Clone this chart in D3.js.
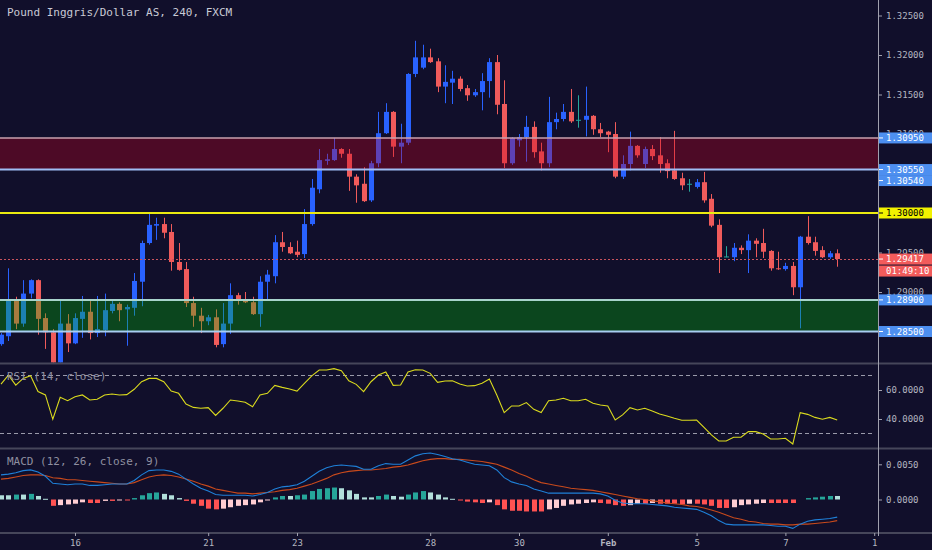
<!DOCTYPE html>
<html><head><meta charset="utf-8">
<script src="https://cdn.jsdelivr.net/npm/d3@7/dist/d3.min.js"></script>
<style>html,body{margin:0;padding:0;background:#110f2b;overflow:hidden}</style>
</head><body><svg id="c" width="932" height="550"></svg>
<script>
// ---------- DATA ----------
const opens=[1.2834,1.2844,1.2889,1.2860,1.2898,1.2915,1.2867,1.2849,1.2804,1.2860,
1.2835,1.2866,1.2875,1.2848,1.2852,1.2876,1.2885,1.2878,1.2880,1.2913,
1.2962,1.2984,1.2986,1.2976,1.2938,1.2929,1.2886,1.2870,1.2863,1.2868,
1.2834,1.2860,1.2896,1.2891,1.2887,1.2872,1.2913,1.2920,1.2963,1.2957,
1.2951,1.2948,1.2986,1.3030,1.3066,1.3067,1.3081,1.3075,1.3046,1.3037,
1.3016,1.3063,1.3101,1.3128,1.3084,1.3089,1.3176,1.3184,1.3197,1.3192,
1.3160,1.3165,1.3170,1.3158,1.3149,1.3153,1.3167,1.3191,1.3138,1.3063,
1.3092,1.3096,1.3109,1.3078,1.3063,1.3115,1.3119,1.3128,1.3118,1.3118,
1.3123,1.3106,1.3103,1.3100,1.3046,1.3062,1.3085,1.3062,1.3081,1.3073,
1.3063,1.3054,1.3044,1.3037,1.3033,1.3039,1.3018,1.2985,1.2945,1.2944,
1.2956,1.2953,1.2965,1.2962,1.2952,1.2930,1.2929,1.2933,1.2906,1.2970,
1.2963,1.2953,1.2944,1.2949];
const highs=[1.2848,1.2930,1.2894,1.2915,1.2916,1.2916,1.2873,1.2853,1.2890,1.2872,
1.2873,1.2895,1.2891,1.2895,1.2898,1.2891,1.2887,1.2884,1.2924,1.2965,
1.3001,1.2994,1.2994,1.2986,1.2962,1.2938,1.2894,1.2880,1.2871,1.2878,
1.2886,1.2911,1.2899,1.2900,1.2894,1.2920,1.2928,1.2972,1.2976,1.2963,
1.2965,1.3005,1.3043,1.3081,1.3075,1.3095,1.3082,1.3081,1.3049,1.3058,
1.3066,1.3128,1.3139,1.3129,1.3113,1.3177,1.3218,1.3213,1.3208,1.3196,
1.3187,1.3180,1.3173,1.3162,1.3157,1.3177,1.3196,1.3200,1.3168,1.3096,
1.3100,1.3123,1.3116,1.3089,1.3147,1.3127,1.3138,1.3157,1.3149,1.3160,
1.3124,1.3114,1.3104,1.3115,1.3073,1.3103,1.3086,1.3084,1.3086,1.3096,
1.3068,1.3104,1.3051,1.3043,1.3043,1.3052,1.3024,1.2992,1.2958,1.2962,
1.2959,1.2973,1.2968,1.2980,1.2953,1.2951,1.2937,1.2938,1.2971,1.2996,
1.2970,1.2958,1.2952,1.2954];
const lows=[1.2832,1.2838,1.2853,1.2856,1.2892,1.2846,1.2828,1.2799,1.2799,1.2824,
1.2834,1.2842,1.2840,1.2843,1.2844,1.2873,1.2863,1.2832,1.2870,1.2882,
1.2960,1.2966,1.2968,1.2927,1.2927,1.2881,1.2856,1.2848,1.2858,1.2830,
1.2830,1.2847,1.2884,1.2886,1.2871,1.2856,1.2890,1.2911,1.2951,1.2948,
1.2944,1.2943,1.2984,1.3025,1.3061,1.3066,1.3070,1.3028,1.3013,1.3014,
1.3014,1.3058,1.3100,1.3071,1.3063,1.3086,1.3172,1.3182,1.3190,1.3153,
1.3139,1.3138,1.3154,1.3142,1.3147,1.3130,1.3146,1.3125,1.3057,1.3061,
1.3084,1.3065,1.3070,1.3054,1.3058,1.3106,1.3116,1.3114,1.3108,1.3097,
1.3099,1.3096,1.3077,1.3044,1.3043,1.3054,1.3070,1.3057,1.3067,1.3051,
1.3044,1.3042,1.3029,1.3027,1.3031,1.3013,1.2982,1.2924,1.2944,1.2939,
1.2948,1.2924,1.2944,1.2943,1.2927,1.2928,1.2927,1.2896,1.2854,1.2960,
1.2946,1.2943,1.2942,1.2932];
const closes=[1.2846,1.2889,1.2860,1.2898,1.2915,1.2866,1.2849,1.2805,1.2860,1.2835,
1.2867,1.2875,1.2848,1.2853,1.2877,1.2885,1.2877,1.2881,1.2914,1.2962,
1.2985,1.2986,1.2975,1.2938,1.2928,1.2886,1.2870,1.2863,1.2868,1.2833,
1.2860,1.2896,1.2891,1.2887,1.2872,1.2913,1.2922,1.2963,1.2957,1.2949,
1.2947,1.2986,1.3032,1.3067,1.3068,1.3081,1.3075,1.3046,1.3035,1.3015,
1.3063,1.3101,1.3128,1.3084,1.3089,1.3176,1.3197,1.3197,1.3191,1.3160,
1.3166,1.3170,1.3157,1.3149,1.3153,1.3167,1.3191,1.3137,1.3063,1.3095,
1.3096,1.3109,1.3077,1.3063,1.3115,1.3119,1.3128,1.3116,1.3118,1.3123,
1.3106,1.3101,1.3099,1.3046,1.3062,1.3085,1.3073,1.3081,1.3072,1.3062,
1.3053,1.3043,1.3035,1.3037,1.3039,1.3016,1.2984,1.2944,1.2945,1.2956,
1.2953,1.2965,1.2961,1.2951,1.2930,1.2929,1.2933,1.2906,1.2970,1.2962,
1.2952,1.2944,1.2949,1.29417];
const rsiValues=[64.1,70.3,63.4,68,69.9,58.9,56.6,39.8,55,52.6,
55.4,56.6,53.1,53.6,56.6,57.2,56.6,56.8,60.5,65.7,
68,68,65.7,59.3,57.7,50.3,48,47.4,47.8,42.5,
47.4,53.1,52.4,51.5,48.5,56.6,57.7,63.2,61.8,60.7,
59.3,64.6,69.7,73.8,73.8,74.7,73.3,66.4,63.9,58.9,
65.7,70.3,72.4,63.2,63.4,72.4,74,73.8,71.5,65.3,
66.2,66.4,64.1,62.8,63,64.6,67.6,56.6,44.4,49,
49,51.3,46.7,44.4,52.6,53.1,54.3,52.6,52.6,53.6,
50.8,49.7,49,39.3,42.8,47.8,46.2,47.4,45.5,43.4,
42.1,40.5,39.1,39.1,39.3,34.3,29,24.8,24.8,27.4,
27.4,31.3,31.3,29.7,26.2,26.2,26.7,22.8,44.4,43.2,
41.1,39.8,41.1,39.3];
const macdValues=[0.0035,0.0036,0.0038,0.0041,0.0042,0.0039,0.0033,0.0023,0.0022,0.0021,
0.0022,0.0022,0.0020,0.0020,0.0021,0.0022,0.0022,0.0022,0.0027,0.0035,
0.0041,0.0042,0.0042,0.0040,0.0036,0.0029,0.0022,0.0016,0.0012,0.0007,
0.0006,0.0006,0.0006,0.0006,0.0005,0.0007,0.0010,0.0015,0.0018,0.0019,
0.0021,0.0026,0.0033,0.0040,0.0045,0.0048,0.0049,0.0048,0.0047,0.0043,
0.0043,0.0048,0.0051,0.0050,0.0050,0.0056,0.0062,0.0065,0.0066,0.0064,
0.0061,0.0058,0.0056,0.0053,0.0050,0.0049,0.0048,0.0042,0.0031,0.0025,
0.0022,0.0020,0.0015,0.0012,0.0009,0.0009,0.0009,0.0009,0.0009,0.0009,
0.0009,0.0008,0.0005,-0.0001,-0.0005,-0.0006,-0.0006,-0.0006,-0.0007,-0.0008,
-0.0009,-0.0011,-0.0012,-0.0013,-0.0014,-0.0018,-0.0023,-0.0030,-0.0035,-0.0036,
-0.0036,-0.0036,-0.0036,-0.0036,-0.0037,-0.0038,-0.0038,-0.0041,-0.0035,-0.0031,
-0.0029,-0.0028,-0.0027,-0.0025];
const signalValues=[0.0029,0.0030,0.0032,0.0034,0.0035,0.0035,0.0034,0.0031,0.0030,0.0028,
0.0028,0.0027,0.0026,0.0025,0.0024,0.0023,0.0022,0.0022,0.0024,0.0028,
0.0032,0.0034,0.0035,0.0034,0.0032,0.0029,0.0026,0.0022,0.0019,0.0015,
0.0013,0.0011,0.0009,0.0009,0.0008,0.0009,0.0010,0.0011,0.0013,0.0014,
0.0016,0.0019,0.0022,0.0026,0.0030,0.0035,0.0038,0.0040,0.0041,0.0042,
0.0042,0.0043,0.0044,0.0046,0.0047,0.0049,0.0052,0.0055,0.0057,0.0058,
0.0058,0.0057,0.0057,0.0056,0.0055,0.0054,0.0052,0.0050,0.0046,0.0042,
0.0037,0.0033,0.0028,0.0024,0.0022,0.0020,0.0018,0.0016,0.0015,0.0014,
0.0013,0.0011,0.0009,0.0007,0.0005,0.0003,0.0001,0.0000,-0.0002,-0.0003,
-0.0005,-0.0006,-0.0007,-0.0009,-0.0010,-0.0012,-0.0015,-0.0018,-0.0022,-0.0026,
-0.0028,-0.0031,-0.0032,-0.0034,-0.0035,-0.0035,-0.0036,-0.0036,-0.0035,-0.0035,
-0.0034,-0.0033,-0.0032,-0.0030];
const histValues=[0.0006,0.0006,0.0007,0.0007,0.0008,0.0005,0.0001,-0.0009,-0.0008,-0.0007,
-0.0006,-0.0004,-0.0005,-0.0005,-0.0002,-0.0002,-0.0001,-0.0001,0.0002,0.0006,
0.0009,0.0010,0.0008,0.0006,0.0002,-0.0002,-0.0006,-0.0009,-0.0013,-0.0014,
-0.0013,-0.0011,-0.0009,-0.0008,-0.0007,-0.0004,-0.0001,0.0003,0.0005,0.0005,
0.0006,0.0007,0.0012,0.0015,0.0016,0.0017,0.0016,0.0013,0.0008,0.0003,
0.0003,0.0005,0.0007,0.0005,0.0004,0.0007,0.0010,0.0012,0.0010,0.0007,
0.0003,0.0001,-0.0001,-0.0003,-0.0004,-0.0005,-0.0004,-0.0008,-0.0014,-0.0016,
-0.0016,-0.0017,-0.0017,-0.0017,-0.0014,-0.0012,-0.0009,-0.0007,-0.0006,-0.0005,
-0.0004,-0.0005,-0.0006,-0.0008,-0.0009,-0.0008,-0.0006,-0.0006,-0.0005,-0.0006,
-0.0006,-0.0006,-0.0007,-0.0006,-0.0006,-0.0007,-0.0009,-0.0012,-0.0012,-0.0011,
-0.0008,-0.0007,-0.0006,-0.0005,-0.0005,-0.0005,-0.0005,-0.0005,0.0000,0.0002,
0.0003,0.0004,0.0005,0.0005];
const dayTickIndex=[10,28,40,58,70,82,94,106,118];
const dayTickLabels=["16","21","23","28","30","Feb","5","7","1"];
// price ticks that are not fully hidden under the level badges
const priceTicks=[1.290,1.295,1.310,1.315,1.320,1.325];
const rsiTicks=[40,60];
const rsiBands=[70,30];
const macdTicks=[0,0.005];
const redZone=[1.3095,1.3055];
const greenZone=[1.2890,1.2850];
const levelLines=[1.3095,1.3055,1.3000,1.2890,1.2850];
const badgeValues=[1.3095,1.3055,1.3054,1.3000,1.29417,1.2890,1.2850];
const countdownText="01:49:10";
const titleText="Pound Inggris/Dollar AS, 240, FXCM";

// ---------- DRAW ----------
const FONT='"DejaVu Sans Mono", monospace';
const BG='#110f2b', AX=878;
const svg=d3.select('#c');
svg.append('rect').attr('width',932).attr('height',550).attr('fill',BG);

const x=d3.scaleLinear().domain([0,118]).range([1,874.2]);
const y=d3.scaleLinear().domain([1.285,1.325]).range([331.5,15.5]);
const yR=d3.scaleLinear().domain([30,70]).range([433.5,375.5]);
const yM=d3.scaleLinear().domain([0,0.005]).range([499.5,464.3]);

const defs=svg.append('defs');
[['cMain',0,0,362.5],['cRsi',0,364.5,83],['cMacd',0,449.5,83]].forEach(c=>{
  defs.append('clipPath').attr('id',c[0]).append('rect').attr('x',c[1]).attr('y',c[2]).attr('width',AX).attr('height',c[3]);
});

const UP='#2962ff', DN='#f05b5b', EQ='#26a69a';
const candles=opens.map((o,i)=>({i,o,h:highs[i],l:lows[i],c:closes[i]}));
const ccol=d=>d.c>d.o?UP:(d.c<d.o?DN:EQ);
const gM=svg.append('g').attr('clip-path','url(#cMain)');
gM.selectAll('rect.w').data(candles).join('rect').attr('class','w')
  .attr('x',d=>Math.round(x(d.i))).attr('width',1)
  .attr('y',d=>y(d.h)).attr('height',d=>Math.max(1,y(d.l)-y(d.h)))
  .attr('fill',ccol);
gM.selectAll('rect.b').data(candles).join('rect').attr('class','b')
  .attr('x',d=>Math.round(x(d.i))-2).attr('width',5)
  .attr('y',d=>y(Math.max(d.o,d.c))).attr('height',d=>Math.max(1,Math.abs(y(d.o)-y(d.c))))
  .attr('fill',ccol);

// zones (semi-transparent, over candles)
gM.append('rect').attr('x',0).attr('width',AX).attr('y',y(redZone[0])).attr('height',y(redZone[1])-y(redZone[0]))
  .attr('fill','rgba(200,0,30,0.33)');
gM.append('rect').attr('x',0).attr('width',AX).attr('y',y(greenZone[0])).attr('height',y(greenZone[1])-y(greenZone[0]))
  .attr('fill','rgba(0,200,0,0.3)');
const lineStyle=[['#c9a0ae',1.5],['#9fbef5',2],['#eaea10',2],['#a8d4cc',2],['#a8cdf2',2]];
levelLines.forEach((v,k)=>{
  gM.append('line').attr('x1',0).attr('x2',AX).attr('y1',y(v)).attr('y2',y(v))
    .attr('stroke',lineStyle[k][0]).attr('stroke-width',lineStyle[k][1]);
});
const last=closes[closes.length-1];
gM.append('line').attr('x1',0).attr('x2',AX).attr('y1',Math.round(y(last))+0.5).attr('y2',Math.round(y(last))+0.5)
  .attr('stroke','#c8545e').attr('stroke-width',1).attr('stroke-dasharray','2,2');

// title
svg.append('text').attr('x',7).attr('y',16).attr('font-family',FONT).attr('font-size',11)
  .attr('fill','#c9cad6').text(titleText);

// separators
[363.5,448.5,533].forEach(v=>svg.append('line').attr('x1',0).attr('x2',932).attr('y1',v).attr('y2',v)
  .attr('stroke','#46465a').attr('stroke-width',2));

// RSI panel
const gR=svg.append('g').attr('clip-path','url(#cRsi)');
rsiBands.forEach(v=>gR.append('line').attr('x1',0).attr('x2',AX-4).attr('y1',yR(v)).attr('y2',yR(v))
  .attr('stroke','#9a9aaa').attr('stroke-width',1).attr('stroke-dasharray','4,3'));
gR.append('path').datum(rsiValues).attr('fill','none').attr('stroke','#dada1e').attr('stroke-width',1.1)
  .attr('d',d3.line().x((d,i)=>x(i)).y(d=>yR(d)));
svg.append('text').attr('x',7).attr('y',380).attr('font-family',FONT).attr('font-size',11)
  .attr('fill','#8f8fa0').text('RSI (14, close)');

// MACD panel
const gD=svg.append('g').attr('clip-path','url(#cMacd)');
const hcol=(v,i)=>{const p=i>0?histValues[i-1]:v;
  if(v>=0) return p<v?'#26a69a':'#b2dfdb';
  return p<v?'#ffcdd2':'#ff5252';};
gD.selectAll('rect.h').data(histValues).join('rect').attr('class','h')
  .attr('x',(d,i)=>Math.round(x(i))-2).attr('width',5)
  .attr('y',d=>Math.min(yM(d),yM(0))).attr('height',d=>Math.max(d===0?0:1,Math.abs(yM(d)-yM(0))))
  .attr('fill',hcol);
gD.append('path').datum(signalValues).attr('fill','none').attr('stroke','#c84a1c').attr('stroke-width',1.1)
  .attr('d',d3.line().x((d,i)=>x(i)).y(d=>yM(d)));
gD.append('path').datum(macdValues).attr('fill','none').attr('stroke','#1f80d8').attr('stroke-width',1.1)
  .attr('d',d3.line().x((d,i)=>x(i)).y(d=>yM(d)));
svg.append('text').attr('x',7).attr('y',465).attr('font-family',FONT).attr('font-size',11)
  .attr('fill','#8f8fa0').text('MACD (12, 26, close, 9)');

// axis line
svg.append('line').attr('x1',AX+0.5).attr('x2',AX+0.5).attr('y1',0).attr('y2',536)
  .attr('stroke','#a0a0ae').attr('stroke-width',1);

function styleAxis(g){
  g.select('.domain').remove();
  g.selectAll('line').attr('stroke','#a0a0ae');
  g.selectAll('text').attr('font-family',FONT).attr('font-size',9).attr('fill','#b4b6c0');
}
svg.append('g').attr('transform',`translate(${AX},0)`)
  .call(d3.axisRight(y).tickValues(priceTicks).tickFormat(d3.format('.5f')).tickSize(4).tickPadding(4)).call(styleAxis);
svg.append('g').attr('transform',`translate(${AX},0)`)
  .call(d3.axisRight(yR).tickValues(rsiTicks).tickFormat(d=>d.toFixed(4)).tickSize(4).tickPadding(4)).call(styleAxis);
svg.append('g').attr('transform',`translate(${AX},0)`)
  .call(d3.axisRight(yM).tickValues(macdTicks).tickFormat(d3.format('.4f')).tickSize(4).tickPadding(4)).call(styleAxis);
const xa=svg.append('g').attr('transform','translate(0,533)')
  .call(d3.axisBottom(x).tickValues(dayTickIndex).tickFormat((d,i)=>dayTickLabels[i]).tickSize(3).tickPadding(4)).call(styleAxis);
xa.selectAll('text').filter((d,i)=>dayTickLabels[i]==='Feb').attr('font-weight','bold');

// price badges
const badgeStyle=v=>v===1.3000?['#f2f200','#000']:(v===last?['#f25b5b','#fff']:['#4d8ff0','#fff']);
const bl=badgeValues.map(v=>({v,t:d3.format('.5f')(v),yy:y(v),s:badgeStyle(v)})).sort((a,b)=>a.yy-b.yy);
for(let k=1;k<bl.length;k++){ if(bl[k].yy<bl[k-1].yy+11) bl[k].yy=bl[k-1].yy+11; }
const priceB=bl.find(b=>b.v===last);
bl.push({v:null,t:countdownText,yy:priceB.yy+12,s:['#f25b5b','#fff'],noTick:true});
const gb=svg.append('g');
bl.forEach(b=>{
  gb.append('rect').attr('x',AX+1).attr('y',b.yy-5.5).attr('width',932-AX-1).attr('height',11).attr('fill',b.s[0]);
  if(!b.noTick) gb.append('line').attr('x1',AX+1).attr('x2',AX+5).attr('y1',b.yy).attr('y2',b.yy).attr('stroke',b.s[1]);
  gb.append('text').attr('x',AX+8).attr('y',b.yy).attr('dy','0.35em').attr('font-family',FONT).attr('font-size',9)
    .attr('fill',b.s[1]).text(b.t);
});
</script></body></html>
